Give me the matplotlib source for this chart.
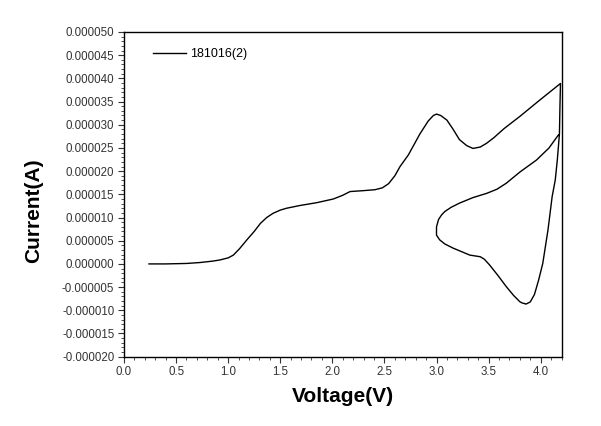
import matplotlib
matplotlib.use("Agg")
import matplotlib.pyplot as plt
from matplotlib.ticker import MultipleLocator, FormatStrFormatter

# Voltage (V) and current (µA), in sweep order
voltage = [0.24, 0.40, 0.60, 0.73, 0.85, 0.92, 1.00, 1.05, 1.11, 1.18, 1.25, 1.31,
           1.37, 1.43, 1.50, 1.56, 1.69, 1.85, 2.01, 2.10, 2.17, 2.30, 2.41, 2.48,
           2.54, 2.60, 2.65, 2.73, 2.84, 2.92, 2.97, 3.00, 3.04, 3.10, 3.16, 3.22,
           3.29, 3.35, 3.42, 3.48, 3.55, 3.65, 3.80, 3.99, 4.19,
           4.185, 4.18, 4.16, 4.14, 4.11, 4.07, 4.02, 3.98, 3.94, 3.90, 3.86, 3.82,
           3.80, 3.74, 3.67, 3.59, 3.51, 3.46, 3.42, 3.32, 3.16, 3.08, 3.03, 3.00,
           3.00, 3.02, 3.05, 3.08, 3.14, 3.22, 3.35, 3.48, 3.58, 3.67, 3.80, 3.96,
           4.08, 4.17]
current_uA = [0.0, 0.0, 0.1, 0.3, 0.6, 0.85, 1.3, 1.9, 3.3, 5.2, 7.0, 8.75,
              10.0, 10.9, 11.6, 12.0, 12.6, 13.2, 14.0, 14.8, 15.6, 15.8, 16.0, 16.4,
              17.3, 19.0, 21.0, 23.5, 28.0, 30.8, 32.0, 32.3, 32.0, 31.0, 29.0, 26.8,
              25.5, 24.9, 25.2, 26.0, 27.2, 29.2, 31.8, 35.3, 38.9,
              34.0, 28.0, 22.5, 18.1, 14.5, 7.3, 0.1, -3.5, -6.6, -8.2, -8.65, -8.4,
              -8.15, -6.8, -4.9, -2.5, -0.24, 1.0, 1.55, 1.9, 3.4, 4.3, 5.2, 6.2,
              8.0, 9.6, 10.6, 11.3, 12.2, 13.1, 14.3, 15.2, 16.1, 17.4, 19.8, 22.4,
              25.0, 27.8]
series_label = "181016(2)"
x_label = "Voltage(V)"
y_label = "Current(A)"

current = [c * 1e-6 for c in current_uA]

fig = plt.figure(figsize=(6.01, 4.26), dpi=100)
ax = fig.add_axes([0.2063, 0.1627, 0.7280, 0.7622])
ax.plot(voltage, current, color="black", linewidth=1.0, label=series_label)

ax.set_xlim(0.0, 4.2)
ax.set_ylim(-0.000020, 0.000050)
ax.xaxis.set_major_locator(MultipleLocator(0.5))
ax.xaxis.set_minor_locator(MultipleLocator(0.1))
ax.yaxis.set_major_locator(MultipleLocator(0.000005))
ax.yaxis.set_minor_locator(MultipleLocator(0.000001))
ax.xaxis.set_major_formatter(FormatStrFormatter("%.1f"))
ax.yaxis.set_major_formatter(FormatStrFormatter("%.6f"))

for lab in ax.get_xticklabels() + ax.get_yticklabels():
    lab.set_fontfamily("Liberation Sans")
    lab.set_fontsize(8.3)
    lab.set_color("#333333")
ax.tick_params(which="major", direction="out", length=4, width=0.8, colors="#333333", pad=3)
ax.tick_params(which="minor", direction="out", length=2, width=0.6, colors="#333333")
for s in ax.spines.values():
    s.set_linewidth(1.0)

ax.set_xlabel(x_label, fontfamily="Liberation Sans", fontweight="bold", fontsize=15, labelpad=6)
ax.set_ylabel(y_label, fontfamily="Liberation Sans", fontweight="bold", fontsize=15)
ax.yaxis.set_label_coords(-0.185, 0.45)

leg = ax.legend(loc="upper left", frameon=False, prop={"family": "Liberation Sans", "size": 9},
                handlelength=2.7, handletextpad=0.25, bbox_to_anchor=(0.04, 0.985))

fig.savefig("out.png", dpi=100, facecolor="white")
